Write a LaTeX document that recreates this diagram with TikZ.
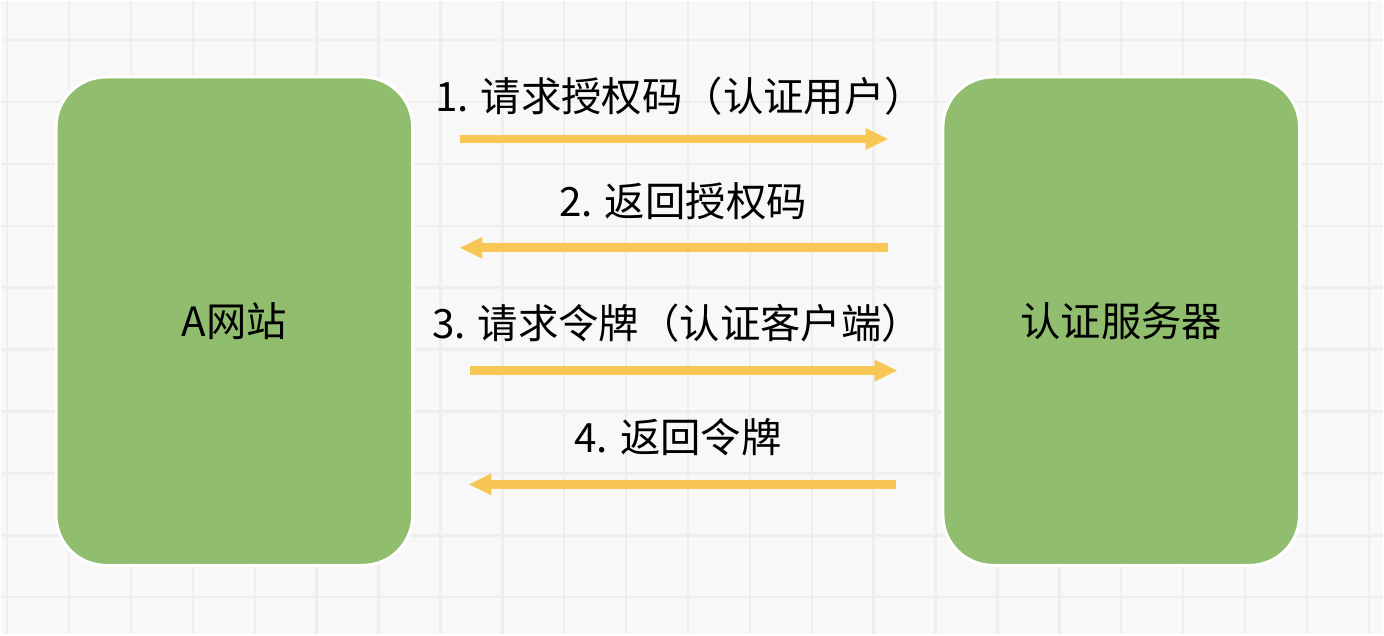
\documentclass[tikz,border=0pt]{standalone}
\usepackage{fontspec}
\setmainfont{Noto Sans CJK SC}
\usetikzlibrary{arrows.meta,positioning}
\definecolor{boxgreen}{RGB}{145,190,110}
\definecolor{flowyellow}{RGB}{248,198,84}
\definecolor{paper}{RGB}{248,248,248}
\definecolor{gridgray}{RGB}{238,238,238}

\begin{document}
\begin{tikzpicture}[x=0.01cm,y=-0.01cm,
	party/.style={draw=white,line width=0.03cm,fill=boxgreen,rounded corners=0.5cm,minimum width=3.57cm,minimum height=4.89cm,font=\fontsize{11.5}{14}\selectfont},
	msg/.style={font=\fontsize{11.5}{14}\selectfont,inner sep=0pt},
	flow/.style={draw=flowyellow,line width=0.09cm,-{Triangle[length=0.23cm,width=0.2cm]}},
	gridline/.style={draw=gridgray,line width=0.025cm}]
	\fill[paper] (0,0) rectangle (1384,634);
	\foreach \x in {6,68,...,1384} \draw[gridline] (\x,0) -- (\x,634);
	\foreach \y in {39,101,...,634} \draw[gridline] (0,\y) -- (1384,\y);

	\node[party] (site) at (233.5,320.5) {A网站};
	\node[party] (server) at (1122,320.5) {认证服务器};

	\node[msg] (m1) at (680,95) {1. 请求授权码（认证用户）};
	\node[msg] (m2) at (683,200) {2. 返回授权码};
	\node[msg] (m3) at (677,322) {3. 请求令牌（认证客户端）};
	\node[msg] (m4) at (678,437) {4. 返回令牌};

	\coordinate (f1a) at (460,138); \coordinate (f1b) at (889,138);
	\coordinate (f2a) at (888,247); \coordinate (f2b) at (459,247);
	\coordinate (f3a) at (470,370); \coordinate (f3b) at (898,370);
	\coordinate (f4a) at (896,484); \coordinate (f4b) at (468,484);
	\foreach \i in {1,...,4} \draw[flow] (f\i a) -- (f\i b);
\end{tikzpicture}
\end{document}
